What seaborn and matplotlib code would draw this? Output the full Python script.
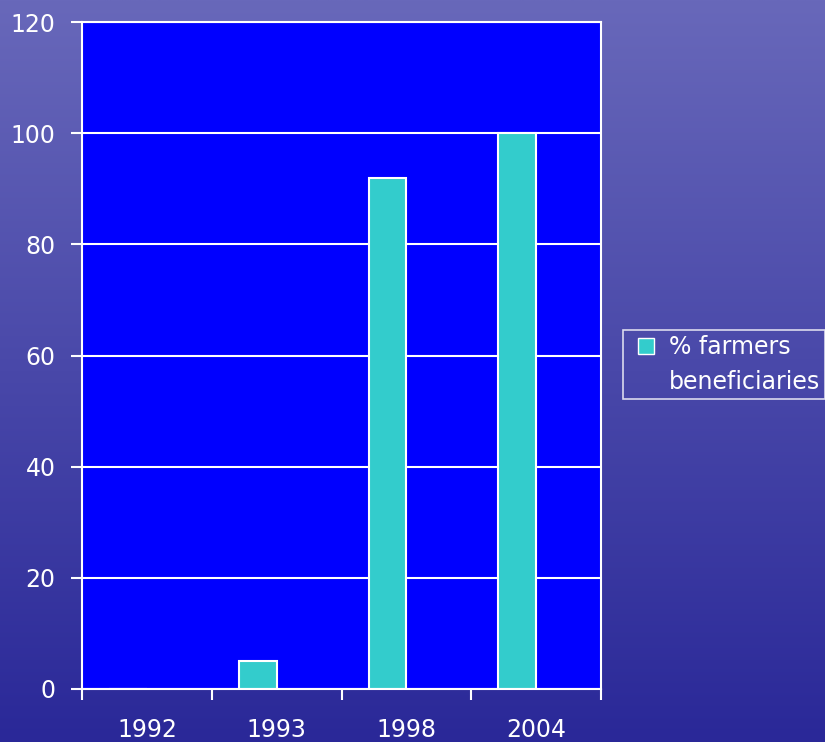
import numpy as np
import pandas as pd
import matplotlib
matplotlib.use("Agg")
import matplotlib.pyplot as plt
from matplotlib.lines import Line2D
import seaborn as sns

# data
years = ["1992", "1993", "1998", "2004"]
farmers_pct = [0, 5, 92, 100]
legend_lines = ["% farmers", "beneficiaries"]
y_ticks = [0, 20, 40, 60, 80, 100, 120]

dados = pd.DataFrame({
    "ano": years * 2,
    "valor": farmers_pct + [np.nan] * len(years),
    "serie": ["farmers"] * len(years) + ["vazio"] * len(years),
})

sns.set_style("white")
plt.rcParams["font.family"] = ["DejaVu Sans"]

fig = plt.figure(figsize=(8.25, 7.42), dpi=100)

# fundo em gradiente (azul tipo mar)
bg = fig.add_axes([0, 0, 1, 1], zorder=-1)
top = np.array([104, 104, 186]) / 255
bottom = np.array([42, 40, 152]) / 255
t = np.linspace(0, 1, 256)[:, None]
grad = top * (1 - t[..., None]) + bottom * t[..., None]
grad = np.repeat(grad, 4, axis=1)
bg.imshow(grad, aspect="auto", extent=[0, 1, 0, 1])
bg.axis("off")

ax = fig.add_axes([82 / 825, 1 - 689 / 742, (601 - 82) / 825, (689 - 22) / 742])
ax.set_facecolor("#0000FF")

sns.barplot(data=dados, x="ano", y="valor", hue="serie",
            palette=["#33CCCC", "#33CCCC"], saturation=1, width=0.58,
            edgecolor="white", linewidth=1.5, ax=ax, legend=False)

ax.set_ylim(0, 120)
ax.set_xlim(-0.5, 3.5)
ax.set_yticks(y_ticks)
ax.yaxis.grid(True, color="white", linewidth=1.5)
ax.set_axisbelow(True)
for s in ax.spines.values():
    s.set_color("white")
    s.set_linewidth(1.5)

ax.set_xlabel("")
ax.set_ylabel("")
ax.set_xticks(range(len(years)))
ax.set_xticklabels(years)
ax.set_xticks(np.arange(-0.5, 4, 1), minor=True)
ax.tick_params(axis="x", which="major", bottom=True, length=0, pad=21,
               labelsize=17, labelcolor="white")
ax.tick_params(axis="x", which="minor", bottom=True, length=8, width=1.5,
               color="white", direction="out")
ax.tick_params(axis="y", left=True, length=8, width=1.5, color="white", pad=11,
               labelsize=17, labelcolor="white")

# legenda: quadrado turquesa + texto em duas linhas
handles = [Line2D([], [], linestyle="none", marker="s", markersize=11.5,
                  markerfacecolor="#33CCCC", markeredgecolor="white", markeredgewidth=1),
           Line2D([], [], linestyle="none")]
leg = fig.legend(handles, legend_lines, loc="upper left",
                 bbox_to_anchor=(623 / 825, 1 - 330 / 742), frameon=True,
                 fancybox=False, fontsize=17, labelcolor="white",
                 handlelength=1.55, handleheight=0.7, handletextpad=0.16,
                 labelspacing=0.45, borderpad=0.22, borderaxespad=0)
leg.get_frame().set_facecolor("none")
leg.get_frame().set_edgecolor("white")
leg.get_frame().set_linewidth(1.2)

fig.savefig("out.png", dpi=100)
